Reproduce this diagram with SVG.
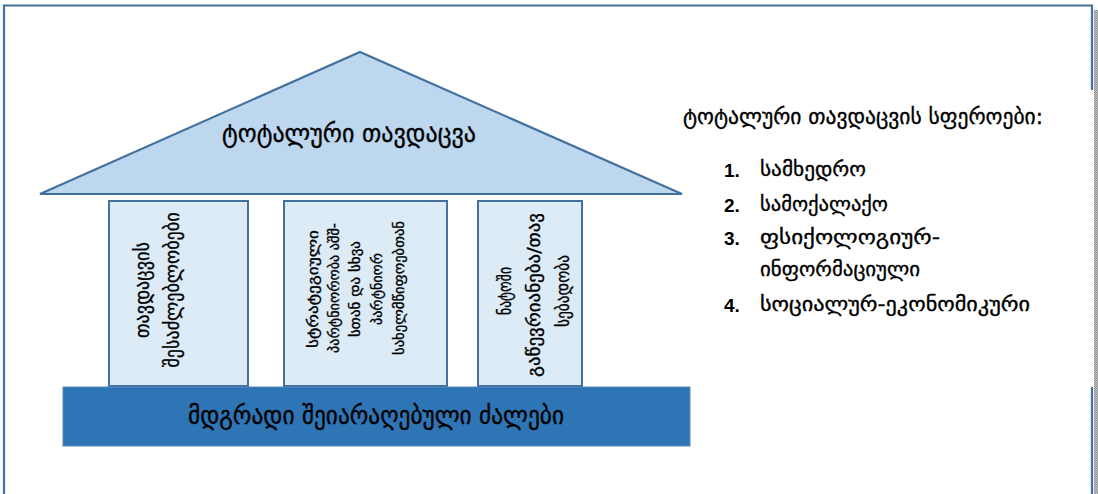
<svg xmlns="http://www.w3.org/2000/svg" width="1098" height="494" viewBox="0 0 1098 494">
<defs>
<pattern id="chk" width="2" height="2" patternUnits="userSpaceOnUse">
<rect width="2" height="2" fill="#c8c8c8"/>
<rect width="1" height="1" fill="#8c8c8c"/>
<rect x="1" y="1" width="1" height="1" fill="#8c8c8c"/>
</pattern>
</defs>
<style>
.frame{stroke:#41719c;stroke-width:2.2;fill:none}
.roof{fill:#bdd7ee;stroke:#41719c;stroke-width:2.2;stroke-linejoin:miter}
.col{fill:#ddebf7;stroke:#41719c;stroke-width:2}
.base{fill:#2e75b6;stroke:#5b87b8;stroke-width:1}
.ka{font-family:"DejaVu Sans","Noto Sans",sans-serif;fill:#000;stroke:#000;stroke-width:0.35}
.num{font-family:"Liberation Sans",Arial,sans-serif;font-weight:bold;font-size:19px;fill:#000}
</style>
<rect x="1094" y="10" width="4" height="484" fill="url(#chk)"/>
<g id="frame">
<path class="frame" d="M4,494 V5.5 H1092 V90"/>
<path class="frame" d="M1092,387 V494"/>
</g>
<g id="roof">
<polygon class="roof" points="40,194 360,52 682,194"/>
<text class="ka" x="349" y="142" font-size="26" text-anchor="middle" textLength="254" lengthAdjust="spacingAndGlyphs">ტოტალური თავდაცვა</text>
</g>
<g id="pillar1">
<rect class="col" x="109" y="201" width="139" height="185"/>
<text class="ka" font-size="20" text-anchor="middle" transform="translate(149,290) rotate(-90)" textLength="96" lengthAdjust="spacingAndGlyphs">თავდაცვის</text>
<text class="ka" font-size="20" text-anchor="middle" transform="translate(179,290) rotate(-90)" textLength="155" lengthAdjust="spacingAndGlyphs">შესაძლებლობები</text>
</g>
<g id="pillar2">
<rect class="col" x="284" y="201" width="163" height="185"/>
<text class="ka" font-size="15" text-anchor="middle" transform="translate(318,289) rotate(-90)" textLength="118" lengthAdjust="spacingAndGlyphs">სტრატეგიული</text>
<text class="ka" font-size="15" text-anchor="middle" transform="translate(339,288) rotate(-90)" textLength="130" lengthAdjust="spacingAndGlyphs">პარტნიორობა აშშ-</text>
<text class="ka" font-size="15" text-anchor="middle" transform="translate(360,289) rotate(-90)" textLength="96" lengthAdjust="spacingAndGlyphs">სთან და სხვა</text>
<text class="ka" font-size="15" text-anchor="middle" transform="translate(382,289) rotate(-90)" textLength="72" lengthAdjust="spacingAndGlyphs">პარტნიორ</text>
<text class="ka" font-size="15" text-anchor="middle" transform="translate(404,288) rotate(-90)" textLength="134" lengthAdjust="spacingAndGlyphs">სახელმწიფოებთან</text>
</g>
<g id="pillar3">
<rect class="col" x="478" y="201" width="104" height="185"/>
<text class="ka" font-size="18.5" text-anchor="middle" transform="translate(511,291) rotate(-90)" textLength="48" lengthAdjust="spacingAndGlyphs">ნატოში</text>
<text class="ka" font-size="18.5" text-anchor="middle" transform="translate(540,295) rotate(-90)" textLength="164" lengthAdjust="spacingAndGlyphs">გაწევრიანება/თავ</text>
<text class="ka" font-size="18.5" text-anchor="middle" transform="translate(569,291) rotate(-90)" textLength="72" lengthAdjust="spacingAndGlyphs">სებადობა</text>
</g>
<g id="base">
<rect class="base" x="63" y="387" width="627" height="59"/>
<text class="ka" x="376" y="424" font-size="25" text-anchor="middle" textLength="376" lengthAdjust="spacingAndGlyphs">მდგრადი შეიარაღებული ძალები</text>
</g>
<g id="legend">
<text class="ka" x="683" y="124" font-size="22" textLength="360" lengthAdjust="spacingAndGlyphs">ტოტალური თავდაცვის სფეროები:</text>
<text class="num" x="724" y="177">1.</text>
<text class="ka" x="760" y="176" font-size="20" textLength="106" lengthAdjust="spacingAndGlyphs">სამხედრო</text>
<text class="num" x="724" y="212">2.</text>
<text class="ka" x="760" y="211" font-size="20" textLength="128" lengthAdjust="spacingAndGlyphs">სამოქალაქო</text>
<text class="num" x="724" y="245">3.</text>
<text class="ka" x="760" y="244" font-size="20" textLength="180" lengthAdjust="spacingAndGlyphs">ფსიქოლოგიურ-</text>
<text class="ka" x="760" y="276" font-size="20" textLength="160" lengthAdjust="spacingAndGlyphs">ინფორმაციული</text>
<text class="num" x="724" y="312">4.</text>
<text class="ka" x="760" y="311" font-size="20" textLength="270" lengthAdjust="spacingAndGlyphs">სოციალურ-ეკონომიკური</text>
</g>
</svg>
